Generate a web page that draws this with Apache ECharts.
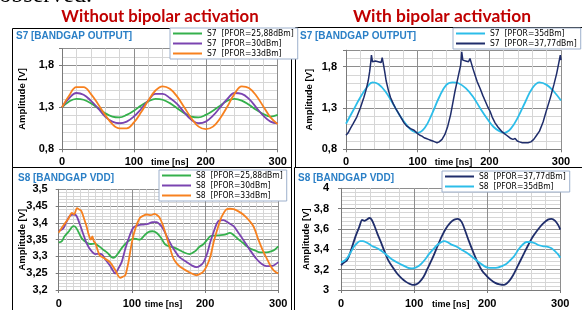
<!DOCTYPE html>
<html><head><meta charset="utf-8">
<script src="https://cdn.jsdelivr.net/npm/echarts@6/dist/echarts.min.js"></script>
<style>html,body{margin:0;padding:0;background:#fff}#c{width:582px;height:310px}</style>
</head><body><div id="c"></div>
<script>
// ---------- DATA ----------
const timeTicks = [0, 100, 200, 300];
const t10 = [0,10,20,30,40,50,60,70,80,90,100,110,120,130,140,150,160,170,180,190,200,210,220,230,240,250,260,270,280,290,300];
// Panel 1: S7 without bipolar activation
const s7_2588 = [1.30,1.37,1.40,1.39,1.35,1.29,1.23,1.19,1.18,1.21,1.26,1.32,1.37,1.40,1.39,1.35,1.29,1.23,1.19,1.18,1.21,1.26,1.32,1.38,1.40,1.38,1.33,1.27,1.22,1.19,1.21];
const s7_30 =   [1.30,1.41,1.47,1.45,1.38,1.29,1.19,1.13,1.11,1.13,1.19,1.28,1.38,1.46,1.46,1.41,1.34,1.24,1.15,1.11,1.13,1.20,1.30,1.40,1.47,1.46,1.40,1.30,1.20,1.13,1.11];
const s7_33 =   [1.30,1.44,1.54,1.54,1.46,1.34,1.21,1.10,1.05,1.05,1.12,1.24,1.38,1.50,1.55,1.52,1.43,1.30,1.17,1.07,1.04,1.07,1.17,1.31,1.46,1.55,1.53,1.44,1.31,1.18,1.10];
// Panel 2: S7 with bipolar activation  [time ns, V]
const s7_35 = [[0,1.11],[10,1.27],[20,1.43],[30,1.56],[37,1.61],[45,1.59],[55,1.50],[65,1.36],[75,1.21],[85,1.09],[93,1.02],[100,1.00],[110,1.06],[120,1.23],[130,1.43],[140,1.58],[149,1.61],[157,1.60],[167,1.54],[177,1.44],[187,1.30],[197,1.17],[206,1.07],[214,1.02],[221,1.00],[230,1.05],[240,1.19],[250,1.37],[260,1.54],[270,1.61],[280,1.58],[290,1.50],[300,1.39]];
const s7_3777 = [[0,0.97],[3,1.00],[6,1.05],[10,1.11],[15,1.19],[20,1.30],[25,1.43],[28,1.52],[31,1.63],[33,1.74],[34.5,1.85],[35.5,1.94],[37,1.86],[39,1.85],[41,1.87],[43,1.86],[45,1.86],[47,1.88],[49,1.85],[50.5,1.91],[52,1.84],[54,1.74],[56,1.63],[59,1.52],[62,1.43],[66,1.35],[69,1.30],[73,1.24],[77,1.18],[81,1.12],[85,1.08],[90,1.05],[95,1.03],[100,0.99],[103,0.97],[106,0.96],[109,0.94],[112,0.93],[115,0.92],[118,0.91],[121,0.90],[124,0.89],[127,0.88],[130,0.89],[134,0.92],[138,0.98],[142,1.08],[146,1.22],[149,1.36],[152,1.50],[155,1.62],[158,1.74],[160,1.82],[161.5,1.98],[163,1.88],[165,1.86],[167,1.87],[169,1.85],[171,1.86],[173,1.90],[175,1.84],[177,1.78],[180,1.70],[183,1.62],[187,1.54],[191,1.45],[195,1.37],[198,1.31],[201,1.26],[204,1.19],[208,1.12],[212,1.07],[215,1.04],[218,1.01],[221,0.99],[224,0.97],[227,0.95],[230,0.93],[233,0.92],[236,0.93],[239,0.90],[242,0.89],[246,0.88],[250,0.88],[254,0.88],[258,0.89],[262,0.92],[266,0.97],[270,1.02],[275,1.13],[280,1.28],[285,1.42],[290,1.58],[294,1.72],[297,1.85],[299,1.94],[300,1.88]];
// Panel 3: S8 without bipolar activation
const s8_2588 = [[0,3.342],[4,3.345],[8,3.36],[14,3.375],[20,3.39],[24,3.385],[31,3.356],[37,3.343],[43,3.337],[49,3.338],[55,3.33],[61,3.32],[67,3.31],[72,3.298],[75,3.296],[78,3.30],[83,3.315],[88,3.33],[95,3.345],[102,3.353],[106,3.352],[111,3.35],[116,3.36],[122,3.372],[128,3.375],[134,3.37],[140,3.355],[145,3.337],[151,3.33],[157,3.327],[164,3.32],[171,3.312],[179,3.307],[186,3.315],[192,3.328],[198,3.337],[203,3.35],[207,3.36],[214,3.362],[220,3.363],[227,3.365],[234,3.37],[240,3.362],[246,3.35],[252,3.34],[257,3.33],[263,3.322],[268,3.318],[273,3.313],[279,3.312],[284,3.312],[290,3.315],[295,3.32],[300,3.33]];
const s8_30 = [[0,3.376],[6,3.383],[10,3.40],[15,3.42],[20,3.425],[24,3.422],[29,3.395],[33,3.37],[38,3.34],[44,3.318],[50,3.307],[55,3.308],[59,3.306],[64,3.29],[70,3.273],[74,3.258],[77,3.249],[81,3.262],[86,3.283],[90,3.315],[95,3.35],[102,3.386],[109,3.393],[116,3.395],[122,3.397],[128,3.402],[134,3.402],[139,3.393],[143,3.381],[150,3.35],[157,3.322],[165,3.298],[175,3.283],[182,3.273],[188,3.268],[193,3.272],[198,3.283],[203,3.31],[207,3.342],[212,3.375],[218,3.405],[225,3.408],[232,3.40],[239,3.39],[245,3.372],[252,3.35],[261,3.32],[270,3.293],[277,3.278],[284,3.271],[292,3.272],[300,3.283]];
const s8_33 = [[0,3.371],[4,3.385],[9,3.40],[14,3.415],[18,3.43],[21,3.425],[25,3.444],[28,3.44],[31,3.435],[35,3.41],[38,3.39],[41,3.365],[44,3.35],[46,3.36],[48,3.345],[50,3.34],[53,3.32],[56,3.303],[62,3.295],[70,3.283],[77,3.26],[84,3.236],[88,3.24],[91,3.244],[95,3.28],[100,3.342],[105,3.385],[111,3.415],[116,3.422],[120,3.425],[126,3.423],[131,3.427],[135,3.422],[138,3.415],[142,3.395],[147,3.361],[152,3.325],[157,3.293],[163,3.275],[170,3.263],[179,3.252],[188,3.244],[193,3.248],[198,3.256],[203,3.275],[207,3.298],[212,3.345],[218,3.39],[223,3.42],[229,3.44],[234,3.442],[239,3.441],[245,3.435],[252,3.425],[259,3.41],[266,3.39],[272,3.355],[279,3.317],[284,3.295],[289,3.273],[294,3.258],[300,3.249]];
// Panel 4: S8 with bipolar activation
const s8_3777 = [[0,3.243],[4,3.27],[8,3.29],[11,3.334],[15,3.42],[20,3.53],[25,3.62],[29,3.69],[32,3.68],[35,3.69],[39,3.708],[42,3.69],[46,3.627],[50,3.55],[55,3.464],[60,3.37],[64,3.302],[70,3.23],[77,3.16],[83,3.115],[89,3.08],[94,3.06],[98,3.05],[103,3.055],[107,3.075],[113,3.13],[118,3.205],[125,3.31],[132,3.43],[138,3.53],[144,3.61],[150,3.665],[155,3.692],[160,3.70],[165,3.67],[170,3.58],[175,3.48],[181,3.37],[187,3.27],[193,3.19],[199,3.14],[205,3.10],[211,3.07],[217,3.055],[223,3.05],[229,3.08],[235,3.14],[242,3.24],[249,3.34],[256,3.44],[263,3.53],[270,3.60],[276,3.65],[283,3.692],[288,3.70],[293,3.68],[297,3.64],[300,3.594]];
const s8_35 = [[0,3.27],[5,3.29],[9,3.32],[14,3.38],[18,3.43],[22,3.46],[26,3.48],[30,3.48],[34,3.47],[39,3.45],[43,3.43],[48,3.415],[52,3.40],[58,3.37],[64,3.334],[70,3.30],[77,3.27],[84,3.245],[91,3.22],[96,3.212],[100,3.215],[105,3.23],[110,3.26],[115,3.30],[120,3.35],[126,3.40],[132,3.445],[137,3.47],[141,3.48],[146,3.47],[151,3.448],[157,3.43],[164,3.40],[171,3.37],[178,3.334],[184,3.30],[190,3.265],[196,3.235],[201,3.22],[208,3.218],[214,3.22],[220,3.235],[226,3.255],[232,3.295],[237,3.334],[243,3.40],[249,3.45],[254,3.472],[259,3.472],[265,3.46],[271,3.44],[277,3.43],[283,3.425],[288,3.41],[293,3.38],[297,3.35],[300,3.318]];

const names = {
  a1:'S7  [PFOR=25,88dBm]', a2:'S7  [PFOR=30dBm]', a3:'S7  [PFOR=33dBm]',
  b1:'S7  [PFOR=35dBm]', b2:'S7  [PFOR=37,77dBm]',
  c1:'S8  [PFOR=25,88dBm]', c2:'S8  [PFOR=30dBm]', c3:'S8  [PFOR=33dBm]',
  d1:'S8  [PFOR=37,77dBm]', d2:'S8  [PFOR=35dBm]'
};
const C = {green:'#35b04c', purple:'#7a44b0', orange:'#f7811f', light:'#2cbde9', dark:'#1f2d6b'};

// ---------- LAYOUT ----------
const grids = [
  {left:62, top:48.5, width:215.7, height:100.8},
  {left:346, top:50.2, width:215, height:99.1},
  {left:58.7, top:189.3, width:219.6, height:102.4},
  {left:341, top:188.3, width:219.3, height:102.7}
];
const yCfg = [
  {min:0.8, max:2.0, major:0.5, minor:0.1, margin:8, nameGap:35},
  {min:0.8, max:2.0, major:0.5, minor:0.1, margin:9, nameGap:32},
  {min:3.2, max:3.5, major:0.05, minor:0.01, margin:11, nameGap:31},
  {min:3.0, max:4.0, major:0.2, minor:0.04, margin:12, nameGap:30}
];
const xCfg = [
  {minor:20, margin:7}, {minor:20, margin:7}, {minor:10, margin:8}, {minor:20, margin:8}
];
const MINOR = '#d6d6d6', MAJOR = '#8e8e8e';
const FONT = 'Liberation Sans';

function fmtY(v, i) {
  if (i < 2 && Math.abs(v - 2.0) < 1e-6) return '';
  let s = (+v.toFixed(2)).toString();
  return s.replace('.', ',');
}

const xAxis = [], yAxis = [];
grids.forEach((g, i) => {
  xAxis.push({gridIndex:i, type:'value', position:'bottom', min:0, max:300, interval:xCfg[i].minor,
    axisLine:{show:false}, axisTick:{show:false}, axisLabel:{show:false},
    splitLine:{show:true, lineStyle:{color:MINOR, width:1}}});
  yAxis.push({gridIndex:i, type:'value', position:'left', min:yCfg[i].min, max:yCfg[i].max, interval:yCfg[i].minor,
    axisLine:{show:false}, axisTick:{show:false}, axisLabel:{show:false},
    splitLine:{show:true, lineStyle:{color:MINOR, width:1}}});
});
grids.forEach((g, i) => {
  xAxis.push({gridIndex:i, type:'value', position:'bottom', min:0, max:300, interval:100,
    axisLine:{show:true, onZero:false, lineStyle:{color:'#7a7a7a'}},
    axisTick:{show:true, length:3, lineStyle:{color:'#7a7a7a'}},
    axisLabel:{color:'#000', fontFamily:FONT, fontWeight:'bold', fontSize:11, margin:xCfg[i].margin,
      formatter: v => timeTicks.includes(v) ? String(v) : ''},
    splitLine:{show:true, lineStyle:{color:MAJOR, width:1}},
    name:'time [ns]', nameLocation:'middle', nameGap:xCfg[i].margin + 2, nameMoveOverlap:false,
    nameTextStyle:{color:'#000', fontFamily:FONT, fontWeight:'bold', fontSize:9, padding: i===2 ? [0,10,0,0] : [0,0,0,0]}});
  yAxis.push({gridIndex:i, type:'value', position:'left', min:yCfg[i].min, max:yCfg[i].max, interval:yCfg[i].major,
    axisLine:{show:true, onZero:false, lineStyle:{color:'#7a7a7a'}},
    axisTick:{show:true, length:3, lineStyle:{color:'#7a7a7a'}},
    axisLabel:{color:'#000', fontFamily:FONT, fontWeight:'bold', fontSize:11, margin:yCfg[i].margin,
      formatter: v => fmtY(v, i)},
    splitLine:{show:true, lineStyle:{color:MAJOR, width:1}},
    name:'Amplitude [V]', nameLocation:'middle', nameGap:yCfg[i].nameGap, nameRotate:90, nameMoveOverlap:false,
    nameTextStyle:{color:'#000', fontFamily:FONT, fontWeight:'bold', fontSize:9.5}});
});

function line(name, data, color, gi, smooth, width) {
  return {type:'line', name, data, xAxisIndex:4+gi, yAxisIndex:4+gi, symbol:'none',
    smooth: smooth, lineStyle:{color, width: width || 1.8}, itemStyle:{color}, z:3};
}
const zip = arr => t10.map((t, k) => [t, arr[k]]);

const series = [
  line(names.a1, zip(s7_2588), C.green, 0, 0.4),
  line(names.a2, zip(s7_30), C.purple, 0, 0.4),
  line(names.a3, zip(s7_33), C.orange, 0, 0.4),
  line(names.b1, s7_35, C.light, 1, 0.4),
  line(names.b2, s7_3777, C.dark, 1, false, 1.5),
  line(names.c1, s8_2588, C.green, 2, 0.3),
  line(names.c2, s8_30, C.purple, 2, 0.3),
  line(names.c3, s8_33, C.orange, 2, 0.3),
  line(names.d1, s8_3777, C.dark, 3, 0.3),
  line(names.d2, s8_35, C.light, 3, 0.3)
];

const legendBase = {orient:'vertical', backgroundColor:'#fff', borderColor:'#9db0cc', borderWidth:1,
  padding:[1,4,1,3], icon:'rect', itemWidth:29, itemHeight:2, itemGap:1, selectedMode:false,
  textStyle:{fontFamily:'DejaVu Sans Condensed', fontSize:8.5, lineHeight:9, color:'#000'}};
const legend = [
  Object.assign({}, legendBase, {left:170, top:28, data:[names.a1, names.a2, names.a3]}),
  Object.assign({}, legendBase, {left:453, top:28, data:[names.b1, names.b2]}),
  Object.assign({}, legendBase, {left:159, top:170, data:[names.c1, names.c2, names.c3]}),
  Object.assign({}, legendBase, {left:442, top:171, data:[names.d1, names.d2]})
];

const graphic = [
  {type:'rect', shape:{x:12.5, y:28.5, width:279, height:139}, style:{fill:null, stroke:'#000', lineWidth:1}, z:-1},
  {type:'rect', shape:{x:295.5, y:27.5, width:290, height:140}, style:{fill:null, stroke:'#000', lineWidth:1}, z:-1},
  {type:'rect', shape:{x:12.5, y:167.5, width:279, height:150}, style:{fill:null, stroke:'#000', lineWidth:1}, z:-1},
  {type:'rect', shape:{x:294.5, y:167.5, width:290, height:150}, style:{fill:null, stroke:'#000', lineWidth:1}, z:-1},
  {type:'text', style:{text:'observed.', x:92, y:8, textAlign:'right', align:'right', textVerticalAlign:'bottom', verticalAlign:'bottom', font:'24px "Liberation Serif"', fill:'#000'}},
  {type:'text', style:{text:'Without bipolar activation', x:160, y:17, textAlign:'center', align:'center', textVerticalAlign:'middle', verticalAlign:'middle', font:'bold 16.8px Lato', fill:'#c00000'}},
  {type:'text', style:{text:'With bipolar activation', x:442, y:16, textAlign:'center', align:'center', textVerticalAlign:'middle', verticalAlign:'middle', font:'bold 17.4px Lato', fill:'#c00000'}},
  {type:'text', style:{text:'S7 [BANDGAP OUTPUT]', x:16, y:36, textVerticalAlign:'middle', verticalAlign:'middle', font:'bold 10px "Liberation Sans"', fill:'#2a7fc6'}},
  {type:'text', style:{text:'S7 [BANDGAP OUTPUT]', x:300, y:36, textVerticalAlign:'middle', verticalAlign:'middle', font:'bold 10px "Liberation Sans"', fill:'#2a7fc6'}},
  {type:'text', style:{text:'S8 [BANDGAP VDD]', x:18, y:178, textVerticalAlign:'middle', verticalAlign:'middle', font:'bold 10px "Liberation Sans"', fill:'#2a7fc6'}},
  {type:'text', style:{text:'S8 [BANDGAP VDD]', x:298, y:178, textVerticalAlign:'middle', verticalAlign:'middle', font:'bold 10px "Liberation Sans"', fill:'#2a7fc6'}}
];

const chart = echarts.init(document.getElementById('c'), null, {renderer:'canvas'});
chart.setOption({animation:false, backgroundColor:'#fff', grid:grids, xAxis, yAxis, series, legend, graphic});
</script></body></html>
